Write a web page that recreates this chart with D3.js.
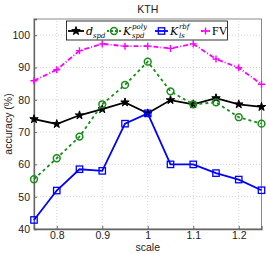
<!DOCTYPE html>
<html>
<head>
<meta charset="utf-8">
<script src="https://cdn.jsdelivr.net/npm/d3@7"></script>
<style>
  body { margin: 0; background: #fff; }
  text { font-family: "Liberation Sans", Arial, sans-serif; }
</style>
</head>
<body>
<svg id="chart"></svg>
<script>
const WIDTH = 266;
const HEIGHT = 254;

// data
const scales = [0.75, 0.8, 0.85, 0.9, 0.95, 1.0, 1.05, 1.1, 1.15, 1.2, 1.25];
const dSpd = [74.0, 72.5, 75.2, 77.1, 79.2, 75.8, 79.9, 78.6, 80.5, 78.6, 77.8];
const kPoly = [55.4, 61.9, 68.6, 78.6, 84.6, 91.8, 82.6, 78.6, 79.2, 74.6, 72.6];
const kRbf = [42.8, 51.9, 58.5, 58.0, 72.6, 75.8, 60.0, 60.0, 57.3, 55.3, 52.0];
const fv = [85.9, 89.3, 95.2, 97.3, 96.6, 96.6, 95.9, 97.3, 92.6, 89.9, 84.8];
const xTicks = [0.8, 0.9, 1, 1.1, 1.2];
const yTicks = [40, 50, 60, 70, 80, 90, 100];

const margin = { top: 19, right: 4.5, bottom: 25, left: 34 };

const svg = d3.select('#chart')
    .attr('width', WIDTH)
    .attr('height', HEIGHT);

const x = d3.scaleLinear().domain([0.75, 1.25]).range([margin.left, WIDTH - margin.right]);
const y = d3.scaleLinear().domain([40, 105]).range([HEIGHT - margin.bottom, margin.top]);

// grid
const grid = svg.append('g');
grid.selectAll('.gx').data(xTicks).enter().append('line')
    .attr('x1', d => x(d)).attr('x2', d => x(d))
    .attr('y1', y(40)).attr('y2', y(105))
    .attr('stroke', '#c8c8c8').attr('stroke-width', 0.8).attr('stroke-dasharray', '1,2');
grid.selectAll('.gy').data(yTicks).enter().append('line')
    .attr('x1', x(0.75)).attr('x2', x(1.25))
    .attr('y1', d => y(d)).attr('y2', d => y(d))
    .attr('stroke', '#c8c8c8').attr('stroke-width', 0.8).attr('stroke-dasharray', '1,2');

// frame
svg.append('rect')
    .attr('x', x(0.75)).attr('y', y(105))
    .attr('width', x(1.25) - x(0.75)).attr('height', y(40) - y(105))
    .attr('fill', 'none').attr('stroke', '#8a8a8a').attr('stroke-width', 1);

// axes (MATLAB style, ticks inside)
const xAxis = svg.append('g')
    .attr('transform', `translate(0,${y(40)})`)
    .call(d3.axisBottom(x).tickValues(xTicks).tickSize(-3).tickPadding(3).tickFormat(d3.format('')));
const yAxis = svg.append('g')
    .attr('transform', `translate(${x(0.75)},0)`)
    .call(d3.axisLeft(y).tickValues(yTicks).tickSize(-3).tickPadding(4));
[xAxis, yAxis].forEach(a => {
    a.select('.domain').attr('stroke', '#666').attr('stroke-width', 1.3);
    a.selectAll('.tick line').attr('stroke', '#666');
    a.selectAll('.tick text').attr('fill', '#222').style('font-size', '10.5px');
});

// series
const series = [
    { name: 'd', values: dSpd, color: '#000000', dash: null, marker: 'star' },
    { name: 'poly', values: kPoly, color: '#1a8c1a', dash: '3,3', marker: 'circle' },
    { name: 'rbf', values: kRbf, color: '#0000ff', dash: null, marker: 'square' },
    { name: 'fv', values: fv, color: '#ff00ff', dash: '5,2,1,2', marker: 'plus' }
];

const line = d3.line().x((d, i) => x(scales[i])).y(d => y(d));

function drawMarker(g, type, color) {
    if (type === 'star') {
        g.append('path').attr('d', d3.symbol().type(d3.symbolStar).size(22)())
            .attr('fill', color).attr('stroke', color).attr('stroke-width', 1);
    } else if (type === 'circle') {
        g.append('circle').attr('r', 3.4).attr('fill', 'none')
            .attr('stroke', color).attr('stroke-width', 1.5);
    } else if (type === 'square') {
        g.append('rect').attr('x', -3.2).attr('y', -3.2).attr('width', 6.4).attr('height', 6.4)
            .attr('fill', 'none').attr('stroke', color).attr('stroke-width', 1.3);
    } else {
        g.append('path').attr('d', 'M-3.5,0H3.5M0,-3.5V3.5')
            .attr('stroke', color).attr('stroke-width', 1.4);
    }
}

series.forEach(s => {
    svg.append('path')
        .datum(s.values)
        .attr('d', line)
        .attr('fill', 'none')
        .attr('stroke', s.color)
        .attr('stroke-width', 1.8)
        .attr('stroke-dasharray', s.dash);
    s.values.forEach((v, i) => {
        const g = svg.append('g').attr('transform', `translate(${x(scales[i])},${y(v)})`);
        drawMarker(g, s.marker, s.color);
    });
});

// legend
const legend = svg.append('g');
legend.append('rect')
    .attr('x', 66.5).attr('y', 21).attr('width', 161).attr('height', 19)
    .attr('fill', '#fff').attr('stroke', '#000').attr('stroke-width', 0.8);

const legendItems = [
    { s: series[0], x0: 68, x1: 84, tx: 86, base: 'd', sub: 'spd', sup: null },
    { s: series[1], x0: 107, x1: 121, tx: 123, base: 'K', sub: 'spd', sup: 'poly' },
    { s: series[2], x0: 155, x1: 168, tx: 170, base: 'K', sub: 'ls', sup: 'rbf' },
    { s: series[3], x0: 201, x1: 210, tx: 212, base: 'FV', sub: null, sup: null }
];
const ly = 31;
legendItems.forEach(item => {
    legend.append('line')
        .attr('x1', item.x0).attr('x2', item.x1).attr('y1', ly).attr('y2', ly)
        .attr('stroke', item.s.color).attr('stroke-width', 1.8)
        .attr('stroke-dasharray', item.s.dash ? '2,2' : null);
    const g = legend.append('g').attr('transform', `translate(${(item.x0 + item.x1) / 2},${ly})`);
    drawMarker(g, item.s.marker, item.s.color);

    const t = legend.append('text')
        .attr('x', item.tx).attr('y', ly + 3.5)
        .style('font-family', '"DejaVu Serif", "Liberation Serif", serif')
        .style('font-size', '11px');
    if (item.base === 'FV') {
        t.style('font-family', '"Liberation Serif", serif').style('font-size', '12px').text('FV');
        return;
    }
    t.append('tspan').style('font-style', 'italic').text(item.base);
    const subX = item.tx + (item.base === 'K' ? 9 : 7);
    t.append('tspan').attr('x', subX).attr('dy', 3).style('font-style', 'italic').style('font-size', '7px').text(item.sub);
    if (item.sup) {
        t.append('tspan').attr('x', subX).attr('dy', -8.5).style('font-style', 'italic').style('font-size', '7px').text(item.sup);
    }
});

// labels
svg.append('text')
    .attr('x', (x(0.75) + x(1.25)) / 2).attr('y', 13)
    .attr('text-anchor', 'middle').style('font-size', '10.5px').attr('fill', '#222')
    .text('KTH');
svg.append('text')
    .attr('x', (x(0.75) + x(1.25)) / 2).attr('y', 251)
    .attr('text-anchor', 'middle').style('font-size', '10.5px').attr('fill', '#222')
    .text('scale');
svg.append('text')
    .attr('transform', `translate(12,${(y(40) + y(105)) / 2}) rotate(-90)`)
    .attr('text-anchor', 'middle').style('font-size', '10.5px').attr('fill', '#222')
    .text('accuracy (%)');
</script>
</body>
</html>
